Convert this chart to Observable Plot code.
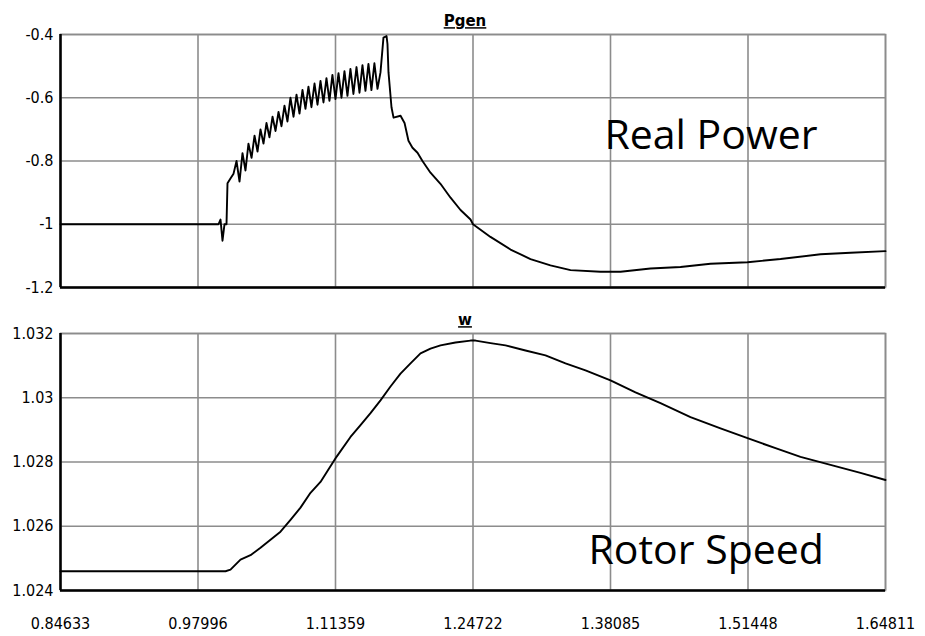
<!DOCTYPE html>
<html><head><meta charset="utf-8">
<script src="https://cdn.jsdelivr.net/npm/d3@7"></script>
<script src="https://cdn.jsdelivr.net/npm/@observablehq/plot@0.6"></script>
<style>
body{margin:0;background:#fff;}
#chart{width:925px;}
#chart svg{display:block;}
</style></head><body><div id="chart"></div>
<script>
// ---- data ----
const xTicks = [0.84633, 0.97996, 1.11359, 1.24722, 1.38085, 1.51448, 1.64811];
const xTickLabels = ["0.84633", "0.97996", "1.11359", "1.24722", "1.38085", "1.51448", "1.64811"];

const pgenTicks = [-1.2, -1, -0.8, -0.6, -0.4];
const pgenTickLabels = ["-1.2", "-1", "-0.8", "-0.6", "-0.4"];
const wTicks = [1.024, 1.026, 1.028, 1.030, 1.032];
const wTickLabels = ["1.024", "1.026", "1.028", "1.03", "1.032"];

const pgenT = [0.84633, 0.99988, 1.00183, 1.00377, 1.00571, 1.00766, 1.00863,
  1.0115, 1.0145, 1.0174, 1.0203, 1.0232, 1.0261, 1.0290, 1.0320, 1.0349, 1.0378,
  1.0407, 1.0436, 1.0465, 1.0494, 1.0524, 1.0553, 1.0582, 1.0611, 1.0640, 1.0669,
  1.0698, 1.0728, 1.0757, 1.0786, 1.0815, 1.0844, 1.0873, 1.0902, 1.0932, 1.0961,
  1.0990, 1.1019, 1.1048, 1.1077, 1.1106, 1.1136, 1.1165, 1.1194, 1.1223, 1.1252,
  1.1281, 1.1310, 1.1340, 1.1369, 1.1398, 1.1427, 1.1456, 1.1485, 1.1514, 1.1544,
  1.1573, 1.1602, 1.1632, 1.1641, 1.1651, 1.1680, 1.1700, 1.1768, 1.1807, 1.1845,
  1.1884, 1.1933, 1.1981, 1.2059, 1.2156, 1.2254, 1.2351, 1.2448, 1.24722,
  1.2642, 1.2837, 1.3031, 1.3225, 1.3420, 1.3711, 1.3906, 1.4197, 1.4489, 1.4780,
  1.5140, 1.5461, 1.5850, 1.6141, 1.64811];
const pgenV = [-1.0, -1.0, -0.985, -1.052, -1.0, -1.0, -0.87,
  -0.855, -0.84, -0.80, -0.865, -0.775, -0.83, -0.745, -0.79, -0.72, -0.77,
  -0.70, -0.745, -0.68, -0.725, -0.66, -0.705, -0.645, -0.69, -0.625, -0.675,
  -0.60, -0.66, -0.59, -0.65, -0.575, -0.635, -0.565, -0.63, -0.555, -0.622,
  -0.547, -0.615, -0.538, -0.61, -0.528, -0.604, -0.522, -0.60, -0.516, -0.594,
  -0.509, -0.588, -0.503, -0.584, -0.497, -0.578, -0.493, -0.576, -0.491, -0.572,
  -0.52, -0.41, -0.405, -0.43, -0.52, -0.63, -0.663, -0.657, -0.68, -0.736,
  -0.758, -0.774, -0.80, -0.837, -0.872, -0.916, -0.955, -0.985, -1.0,
  -1.04, -1.08, -1.11, -1.13, -1.145, -1.15, -1.15, -1.14, -1.135, -1.125,
  -1.12, -1.11, -1.095, -1.09, -1.085];

const wT = [0.84633, 1.00669, 1.01155, 1.02126, 1.03098, 1.04070, 1.05042, 1.06014,
  1.06986, 1.07958, 1.08929, 1.09901, 1.11456, 1.12817, 1.13789, 1.14760, 1.15732,
  1.16704, 1.17676, 1.18648, 1.19620, 1.20591, 1.21563, 1.23021, 1.24479, 1.24965,
  1.26423, 1.27881, 1.29824, 1.31768, 1.33712, 1.35655, 1.38085, 1.40514, 1.42944,
  1.45859, 1.48775, 1.51400, 1.54122, 1.56550, 1.59466, 1.62381, 1.64811];
const wV = [1.0246, 1.0246, 1.02465, 1.02496, 1.0251, 1.02533, 1.02558, 1.02583,
  1.0262, 1.02658, 1.02704, 1.02738, 1.02816, 1.02878, 1.02915, 1.02952, 1.02992,
  1.03035, 1.03075, 1.03107, 1.03138, 1.03153, 1.03163, 1.03172, 1.03178, 1.03178,
  1.0317, 1.03163, 1.03147, 1.03132, 1.03107, 1.03085, 1.03054, 1.03017, 1.02983,
  1.0294, 1.02905, 1.02874, 1.02843, 1.02816, 1.02791, 1.02766, 1.02744];

const panelTitles = ["Pgen", "w"];
const noteTexts = ["Real Power", "Rotor Speed"];
const noteX = [1.3750, 1.3595];
const noteY = [-0.761, 1.02481];

// ---- drawing ----
const gridColor = "#8c8c8c";
function panel({t, v, ticks, tickLabels, title, note, height, marginTop, marginBottom, showX}) {
  const data = t.map((x, i) => ({x, y: v[i]}));
  const yLab = new Map(ticks.map((d, i) => [d, tickLabels[i]]));
  const xLab = new Map(xTicks.map((d, i) => [d, xTickLabels[i]]));
  const marks = [
    Plot.gridX(xTicks, {stroke: gridColor, strokeOpacity: 1, strokeWidth: 1.6}),
    Plot.gridY(ticks, {stroke: gridColor, strokeOpacity: 1, strokeWidth: 1.6}),
    Plot.frame({stroke: gridColor, strokeWidth: 1.6}),
    Plot.ruleX([xTicks[0]], {stroke: "#000", strokeWidth: 2.5}),
    Plot.ruleY([ticks[0]], {stroke: "#000", strokeWidth: 2.5}),
    Plot.line(data, {x: "x", y: "y", stroke: "#000", strokeWidth: 1.9}),
    Plot.axisY(ticks, {tickSize: 0, tickPadding: 7, tickFormat: d => yLab.get(d), fontSize: 16, label: null}),
    Plot.text([title], {text: d => d, frameAnchor: "top", dx: -8, dy: -19, fontWeight: "bold",
      fontSize: 15, fontFamily: "'DejaVu Sans', sans-serif"}),
    Plot.text([note], {x: d => d.x, y: d => d.y, text: d => d.text, textAnchor: "start",
      lineAnchor: "bottom", fontSize: 41, fontFamily: "'Open Sans', sans-serif"})
  ];
  if (showX) marks.push(Plot.axisX(xTicks, {tickSize: 0, tickPadding: 27, tickFormat: d => xLab.get(d), fontSize: 16, label: null}));
  const svg = Plot.plot({
    width: 925, height, marginLeft: 60, marginRight: 40, marginTop, marginBottom,
    style: {fontFamily: "'DejaVu Sans Condensed', 'DejaVu Sans', sans-serif", fontSize: "16px", color: "#000", background: "#fff"},
    x: {domain: [xTicks[0], xTicks[xTicks.length - 1]], axis: showX ? undefined : null, label: null},
    y: {domain: [ticks[0], ticks[ticks.length - 1]], label: null},
    marks
  });
  d3.select(svg).selectAll("text").filter(function () { return this.textContent === title; })
    .attr("text-decoration", "underline").style("text-decoration", "underline");
  return svg;
}

const chart = document.getElementById("chart");
chart.append(panel({t: pgenT, v: pgenV, ticks: pgenTicks, tickLabels: pgenTickLabels,
  title: panelTitles[0], note: {text: noteTexts[0], x: noteX[0], y: noteY[0]},
  height: 300, marginTop: 34, marginBottom: 13, showX: false}));
chart.append(panel({t: wT, v: wV, ticks: wTicks, tickLabels: wTickLabels,
  title: panelTitles[1], note: {text: noteTexts[1], x: noteX[1], y: noteY[1]},
  height: 336, marginTop: 33, marginBottom: 46, showX: true}));
</script>
</body></html>
